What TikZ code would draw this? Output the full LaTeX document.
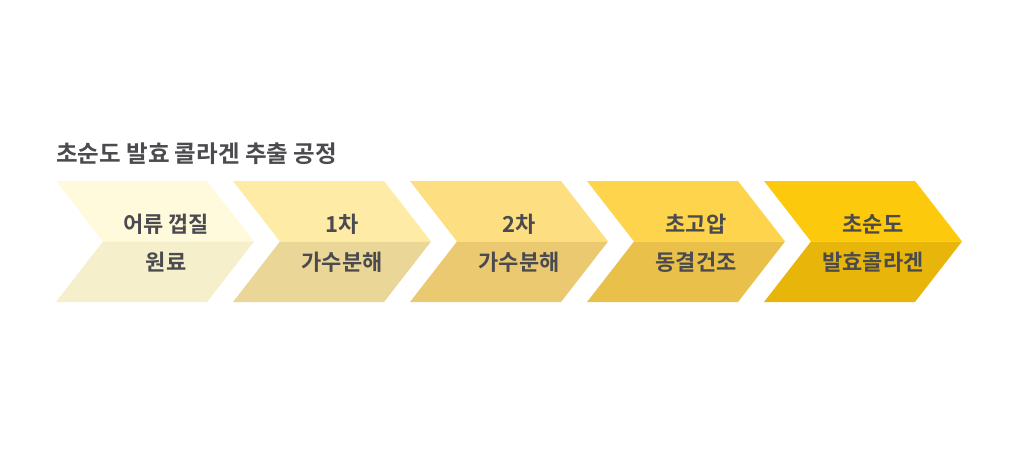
\documentclass[tikz,border=0pt]{standalone}
\usepackage{fontspec}
\setmainfont{Noto Sans CJK KR}[BoldFont={* Bold}]
\definecolor{txt}{HTML}{4A4A4F}
\definecolor{c1t}{HTML}{FFFADB}\definecolor{c1b}{HTML}{F5EFCC}
\definecolor{c2t}{HTML}{FEEBA5}\definecolor{c2b}{HTML}{EAD697}
\definecolor{c3t}{HTML}{FDDE80}\definecolor{c3b}{HTML}{EAC970}
\definecolor{c4t}{HTML}{FDD44B}\definecolor{c4b}{HTML}{E9C14A}
\definecolor{c5t}{HTML}{FCC90C}\definecolor{c5b}{HTML}{E8B60A}
\tikzset{
  lbl/.style={font=\bfseries\fontsize{22}{26}\selectfont, text=txt, inner sep=0pt, anchor=center},
  ttl/.style={font=\bfseries\fontsize{23.5}{28}\selectfont, text=txt, inner sep=0pt, anchor=west},
}
\newcommand{\chev}[3]{%
  \fill[#2] (#1,181) -- ++(151,0) -- ++(47,60.5) -- ++(-151,0) -- cycle;
  \fill[#3] (#1+47,241.5) -- ++(151,0) -- ++(-47,60.5) -- ++(-151,0) -- cycle;
}
\begin{document}
\begin{tikzpicture}[x=1pt,y=-1pt]
\useasboundingbox (0,0) rectangle (1024,465);
\fill[white] (0,0) rectangle (1024,465);
\node[ttl] (title) at (56,154) {초순도 발효 콜라겐 추출 공정};
\chev{56}{c1t}{c1b}
\chev{233}{c2t}{c2b}
\chev{410}{c3t}{c3b}
\chev{587}{c4t}{c4b}
\chev{764}{c5t}{c5b}
\node[lbl] (a1) at (166,224) {어류 껍질};
\node[lbl] (a2) at (166,262) {원료};
\node[lbl] (b1) at (342,224) {1차};
\node[lbl] (b2) at (342,262) {가수분해};
\node[lbl] (c1) at (519,224) {2차};
\node[lbl] (c2) at (519,262) {가수분해};
\node[lbl] (d1) at (696,224) {초고압};
\node[lbl] (d2) at (696,262) {동결건조};
\node[lbl] (e1) at (873,224) {초순도};
\node[lbl] (e2) at (873,262) {발효콜라겐};
\end{tikzpicture}
\end{document}
